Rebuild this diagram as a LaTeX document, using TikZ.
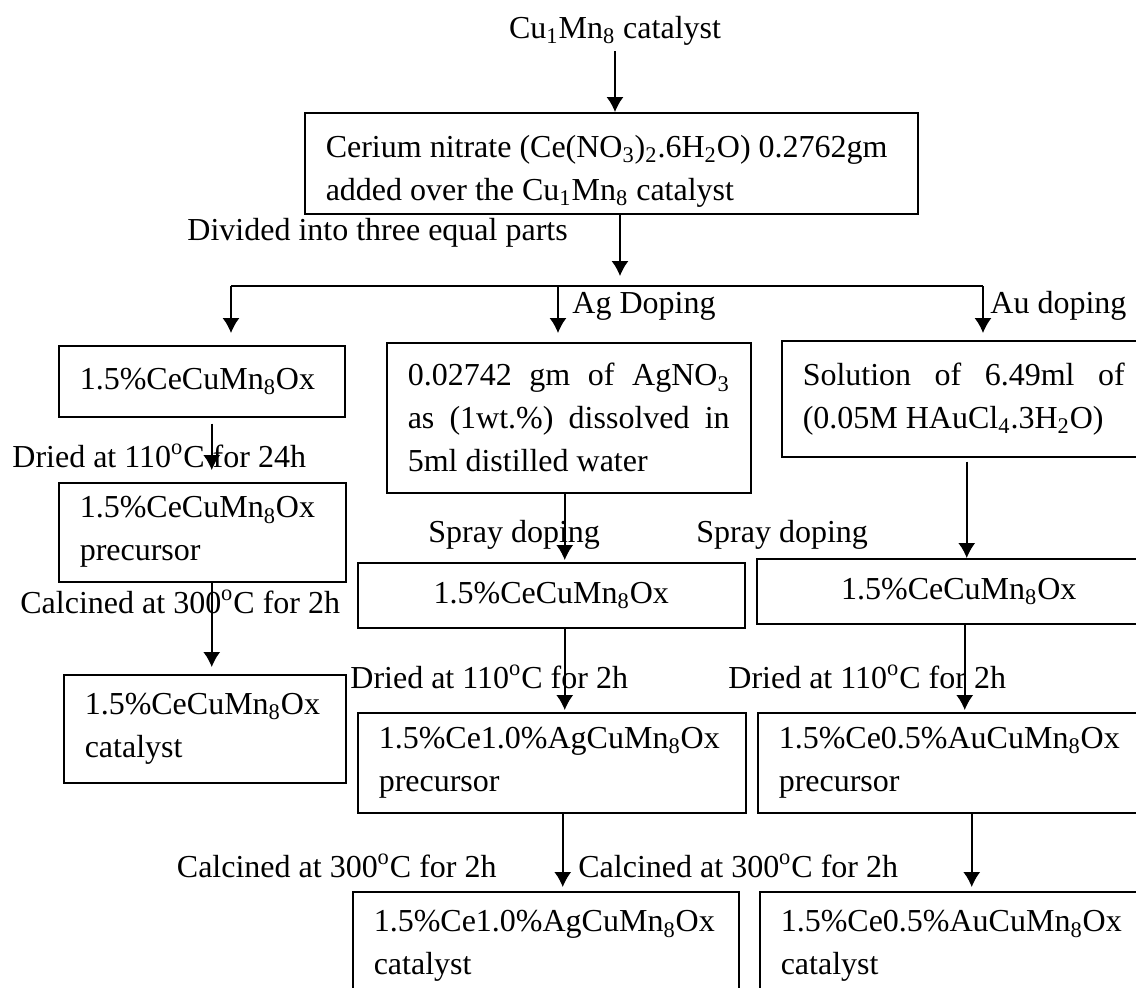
\documentclass[tikz,border=0pt]{standalone}
\usepackage{fontspec}
\setmainfont{Liberation Serif}
\usepackage{tikz}
\usetikzlibrary{arrows.meta}

\begin{document}
\begin{tikzpicture}[x=0.5pt,y=-0.5pt,
    every node/.style={font=\fontsize{16}{21.5}\selectfont},
    lbl/.style={inner sep=0pt},
    box/.style={draw,line width=0.75pt,anchor=north west,inner xsep=10.5pt,inner ysep=0pt,align=flush left},
    arr/.style={-{Latex[length=7.5pt,width=8.5pt]},line width=0.75pt}]
    \useasboundingbox (0,0) rectangle (1136,987);
    \clip (0,0) rectangle (1136,987);
    % start and cerium step
    \node[lbl,anchor=base] (title) at (615,38) {Cu\textsubscript{1}Mn\textsubscript{8} catalyst};
    \node[box,minimum width=306.5pt,minimum height=50.5pt,text width=285.5pt] (main) at (304,112)
        {\rule{0pt}{19pt}Cerium nitrate (Ce(NO\textsubscript{3})\textsubscript{2}.6H\textsubscript{2}O) 0.2762gm\\added over the Cu\textsubscript{1}Mn\textsubscript{8} catalyst};
    \node[lbl,anchor=base west] (divide) at (187,240) {Divided into three equal parts};
    \node[lbl,anchor=base west] (agdop) at (572,313) {Ag Doping};
    \node[lbl,anchor=base west] (audop) at (990,313) {Au doping};
    % left column
    \node[box,minimum height=35.5pt,text width=122pt] (ce) at (58,345) {1.5\%CeCuMn\textsubscript{8}Ox};
    \node[lbl,anchor=base west] (dried24) at (12,467) {Dried at 110\textsuperscript{o}C for 24h};
    \node[box,minimum height=49.5pt,text width=122.5pt] (cepre) at (58,482) {1.5\%CeCuMn\textsubscript{8}Ox\\precursor};
    \node[lbl,anchor=base west] (calc1) at (20,613) {Calcined at 300\textsuperscript{o}C for 2h};
    \node[box,minimum height=54pt,text width=120pt] (cecat) at (63,674) {1.5\%CeCuMn\textsubscript{8}Ox\\catalyst};
    % silver column
    \node[box,align=justify,minimum height=75pt,text width=161pt] (agsol) at (386,342)
        {0.02742\hfill gm\hfill of\hfill AgNO\textsubscript{3}\\as\hfill (1wt.\%)\hfill dissolved\hfill in\\5ml distilled water};
    \node[lbl,anchor=base west] (spray1) at (428,542) {Spray doping};
    \node[box,align=center,minimum height=32.5pt,text width=172.5pt] (agce) at (357,562) {1.5\%CeCuMn\textsubscript{8}Ox};
    \node[lbl,anchor=base west] (dried2a) at (350,688) {Dried at 110\textsuperscript{o}C for 2h};
    \node[box,minimum height=50pt,text width=173pt] (agpre) at (357,712) {1.5\%Ce1.0\%AgCuMn\textsubscript{8}Ox\\precursor};
    \node[lbl,anchor=base east] (calc2) at (497,877) {Calcined at 300\textsuperscript{o}C for 2h};
    \node[box,minimum height=54.5pt,text width=172pt] (agcat) at (352,891) {1.5\%Ce1.0\%AgCuMn\textsubscript{8}Ox\\catalyst};
    % gold column
    \node[box,align=justify,minimum height=58pt,text width=161pt] (ausol) at (781,340)
        {Solution\hfill of\hfill 6.49ml\hfill of\\(0.05M HAuCl\textsubscript{4}.3H\textsubscript{2}O)};
    \node[lbl,anchor=base west] (spray2) at (696,542) {Spray doping};
    \node[box,align=center,minimum height=32.5pt,text width=181pt] (auce) at (756,558) {1.5\%CeCuMn\textsubscript{8}Ox};
    \node[lbl,anchor=base west] (dried2b) at (728,688) {Dried at 110\textsuperscript{o}C for 2h};
    \node[box,minimum height=50pt,text width=178pt] (aupre) at (757,712) {1.5\%Ce0.5\%AuCuMn\textsubscript{8}Ox\\precursor};
    \node[lbl,anchor=base west] (calc3) at (578,877) {Calcined at 300\textsuperscript{o}C for 2h};
    \node[box,minimum height=54.5pt,text width=177pt] (aucat) at (759,891) {1.5\%Ce0.5\%AuCuMn\textsubscript{8}Ox\\catalyst};
    % splitting into three parts
    \coordinate (split) at (620,276);
    \coordinate (busl) at (231,286);
    \coordinate (busm) at (558,286);
    \coordinate (busr) at (983,286);
    \draw[arr,shorten <=3pt] (title.south) -- (title.south |- main.north);
    \draw[arr] (main.south -| split) -- (split);
    \draw[line width=0.75pt] (busl) -- (busr);
    \draw[arr,shorten >=6pt] (busl) -- (busl |- ce.north);
    \draw[arr,shorten >=4.5pt] (busm) -- (busm |- agsol.north);
    \draw[arr,shorten >=3.5pt] (busr) -- (busr |- ausol.north);
    % steps down each column
    \draw[arr,shorten <=3pt,shorten >=6pt] ([xshift=5pt]ce.south) -- ([xshift=5pt]ce.south |- cepre.north);
    \draw[arr,shorten >=3.5pt] ([xshift=4.75pt]cepre.south) -- ([xshift=4.75pt]cepre.south |- cecat.north);
    \draw[arr,shorten >=1pt] ([xshift=-2pt]agsol.south) -- ([xshift=-2pt]agsol.south |- agce.north);
    \draw[arr,shorten >=1pt] ([xshift=6.75pt]agce.south) -- ([xshift=6.75pt]agce.south |- agpre.north);
    \draw[arr,shorten >=2pt] ([xshift=5.5pt]agpre.south) -- ([xshift=5.5pt]agpre.south |- agcat.north);
    \draw[arr,shorten <=2pt] ([xshift=1.5pt]ausol.south) -- ([xshift=1.5pt]ausol.south |- auce.north);
    \draw[arr,shorten >=1pt] ([xshift=3pt]auce.south) -- ([xshift=3pt]auce.south |- aupre.north);
    \draw[arr,shorten >=2pt] ([xshift=7.5pt]aupre.south) -- ([xshift=7.5pt]aupre.south |- aucat.north);
\end{tikzpicture}
\end{document}
